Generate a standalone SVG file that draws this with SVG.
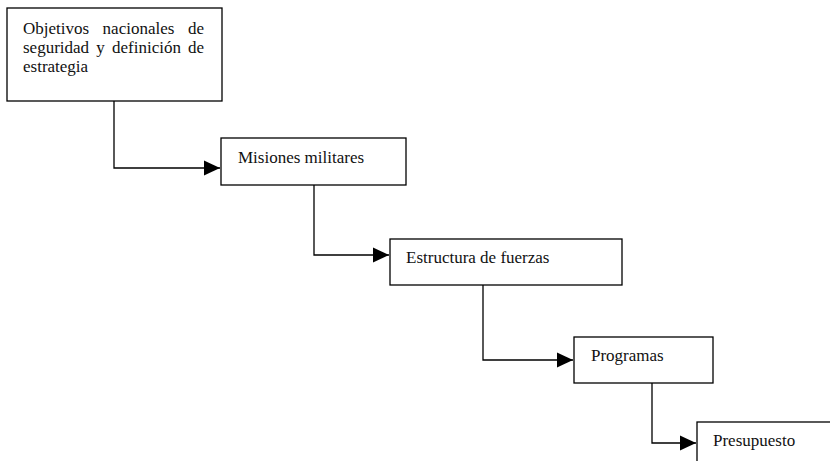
<svg xmlns="http://www.w3.org/2000/svg" width="830" height="461" viewBox="0 0 830 461">
<style>
.box{fill:#fff;stroke:#000;stroke-width:1.3}
.lbl{font-family:"Liberation Serif","Times New Roman",serif;font-size:17px;fill:#111}
.conn{fill:none;stroke:#000;stroke-width:1.3}
</style>
<defs>
<marker id="arr" markerUnits="userSpaceOnUse" markerWidth="17" markerHeight="17" viewBox="0 0 17 17" refX="16" refY="8.5" orient="auto">
<path d="M0,1 L16,8.5 L0,16 Z" fill="#000"/>
</marker>
</defs>
<rect width="830" height="461" fill="#fff"/>
<g id="connectors">
<path class="conn" d="M114,101 V168 H220" marker-end="url(#arr)"/>
<path class="conn" d="M314,185 V255 H389" marker-end="url(#arr)"/>
<path class="conn" d="M483,285 V360 H573" marker-end="url(#arr)"/>
<path class="conn" d="M652,383 V443 H696" marker-end="url(#arr)"/>
</g>
<g id="n1">
<rect class="box" x="7" y="8" width="215" height="93"/>
<text class="lbl" y="34"><tspan x="23">Objetivos</tspan><tspan x="102.6">nacionales</tspan><tspan x="204" text-anchor="end">de</tspan></text>
<text class="lbl" y="53"><tspan x="23">seguridad</tspan><tspan x="96.3">y</tspan><tspan x="112">definición</tspan><tspan x="204" text-anchor="end">de</tspan></text>
<text class="lbl" x="23" y="72">estrategia</text>
</g>
<g id="n2">
<rect class="box" x="221" y="138" width="185" height="47"/>
<text class="lbl" x="238" y="163">Misiones militares</text>
</g>
<g id="n3">
<rect class="box" x="390" y="239" width="232" height="46"/>
<text class="lbl" x="406" y="263">Estructura de fuerzas</text>
</g>
<g id="n4">
<rect class="box" x="574" y="337" width="139" height="46"/>
<text class="lbl" x="591" y="361">Programas</text>
</g>
<g id="n5">
<rect class="box" x="697" y="422" width="200" height="60"/>
<text class="lbl" x="713" y="446">Presupuesto</text>
</g>
</svg>
